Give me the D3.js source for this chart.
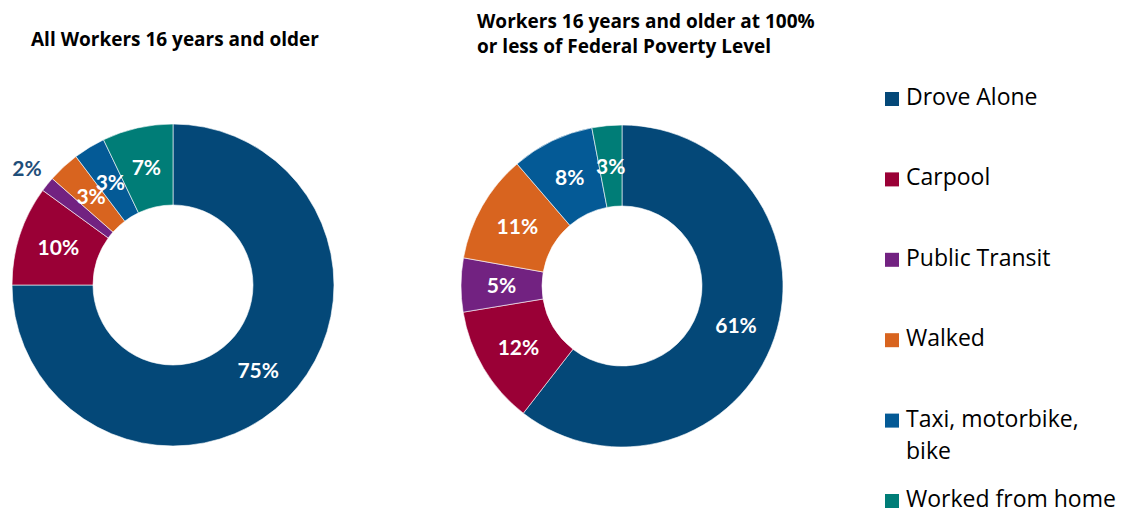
<!DOCTYPE html>
<html>
<head>
<meta charset="utf-8">
<script src="https://cdn.jsdelivr.net/npm/d3@7"></script>
<style>
    body { margin: 0; background: #fff; }
    svg { display: block; }
</style>
</head>
<body>
<div id="chart"></div>
<script>
const categories = ['Drove Alone', 'Carpool', 'Public Transit', 'Walked', 'Taxi, motorbike, bike', 'Worked from home']
const colors = ['#044878', '#9a0036', '#722281', '#d8641f', '#045a96', '#007d77']
const allWorkers = [75, 10, 1.5, 3.2, 3.2, 7.1]
const povertyWorkers = [60.5, 11.9, 5.4, 10.9, 8.3, 3.0]
const titles = [
    ['All Workers 16 years and older'],
    ['Workers 16 years and older at 100%', 'or less of Federal Poverty Level']
]

const createChart = () => {
    const width = 1128
    const height = 513
    const outer = 161
    const inner = 80

    const svg = d3.select('#chart')
        .append('svg')
        .attr('width', width)
        .attr('height', height)

    const color = d3.scaleOrdinal().domain(categories).range(colors)
    const pie = d3.pie().sort(null).value((d) => d.value)
    const arc = d3.arc().innerRadius(inner).outerRadius(outer)
    const outsideArc = d3.arc().innerRadius(187).outerRadius(187)

    const donuts = [
        { data: allWorkers, cx: 173, cy: 285, title: titles[0], tx: 31, ty: [46] },
        { data: povertyWorkers, cx: 622, cy: 286, title: titles[1], tx: 477, ty: [28, 53] }
    ]

    donuts.forEach((donut) => {
        const rows = categories.map((c, i) => ({ key: c, value: donut.data[i] }))
        const g = svg.append('g')
            .attr('transform', `translate(${donut.cx}, ${donut.cy})`)

        g.selectAll('path')
            .data(pie(rows))
            .enter()
            .append('path')
            .attr('d', arc)
            .style('fill', (d) => color(d.data.key))
            .style('stroke', '#fff')
            .style('stroke-width', 0.6)

        g.selectAll('text')
            .data(pie(rows))
            .enter()
            .append('text')
            .attr('transform', (d) => {
                const p = d.data.value < 2 ? outsideArc.centroid(d) : arc.centroid(d)
                return `translate(${p[0]}, ${p[1]})`
            })
            .attr('text-anchor', 'middle')
            .attr('dy', '0.36em')
            .style('font-family', 'Lato, sans-serif')
            .style('font-weight', 'bold')
            .style('font-size', '21px')
            .style('fill', (d) => d.data.value < 2 ? '#1f4e79' : '#fff')
            .text((d) => Math.round(d.data.value) + '%')

        svg.append('text')
            .attr('x', donut.tx)
            .style('font-family', '"Open Sans", sans-serif')
            .style('font-weight', 'bold')
            .style('font-size', '19px')
            .style('fill', '#000')
            .selectAll('tspan')
            .data(donut.title)
            .enter()
            .append('tspan')
            .attr('x', donut.tx)
            .attr('y', (d, i) => donut.ty[i])
            .text((d) => d)
    })

    // legend
    const legendY = d3.scalePoint().domain(categories).range([105, 507])
    const legend = svg.append('g')
        .selectAll('g')
        .data(categories)
        .enter()
        .append('g')
        .attr('transform', (d) => `translate(885, ${legendY(d)})`)

    legend.append('rect')
        .attr('x', 0)
        .attr('y', -13)
        .attr('width', 14)
        .attr('height', 14)
        .style('fill', (d) => color(d))

    legend.append('text')
        .attr('x', 21)
        .style('font-family', '"Open Sans", sans-serif')
        .style('font-size', '23px')
        .style('fill', '#000')
        .selectAll('tspan')
        .data((d) => d === 'Taxi, motorbike, bike' ? ['Taxi, motorbike,', 'bike'] : [d])
        .enter()
        .append('tspan')
        .attr('x', 21)
        .attr('dy', (d, i) => i === 0 ? 0 : 32)
        .text((d) => d)
}

createChart()
</script>
</body>
</html>
